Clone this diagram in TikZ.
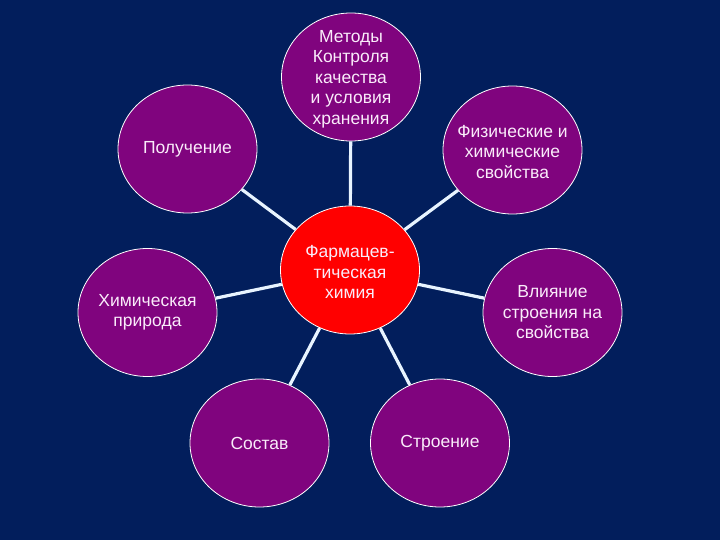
\documentclass[tikz,border=0pt]{standalone}
\usepackage{fontspec}
\setmainfont{Liberation Sans}
\usetikzlibrary{shapes.geometric,backgrounds}
\definecolor{bgblue}{RGB}{2,30,92}
\definecolor{purp}{RGB}{128,4,126}
\definecolor{redc}{RGB}{255,0,0}
\definecolor{linec}{RGB}{232,244,255}
\definecolor{txt}{RGB}{250,236,250}
\tikzset{
  bubble/.style={ellipse, draw=white, line width=0.8pt, fill=purp, minimum width=139pt, minimum height=128pt, inner sep=0pt},
  hub/.style={bubble, fill=redc},
  lbl/.style={inner sep=0pt, align=center, text=txt, font=\fontsize{17.5}{20.5}\selectfont},
  link/.style={draw=linec, line width=3.2pt}
}
\begin{document}
\begin{tikzpicture}[x=1pt,y=-1pt]
\useasboundingbox (0,0) rectangle (720,540);
\node[hub] (c) at (350,270) {};
\node[bubble] (top) at (351,77) {};
\node[bubble] (pol) at (187.5,149) {};
\node[bubble] (fiz) at (512.5,150) {};
\node[bubble] (him) at (147.5,312.5) {};
\node[bubble] (vli) at (552.5,312.5) {};
\node[bubble] (sos) at (259.5,443) {};
\node[bubble] (str) at (440,443) {};
\node[lbl] (ct) at ([yshift=-2pt]c.center) {Фармацев-\\тическая\\химия};
\node[lbl] (topt) at ([yshift=-2pt]top.center) {Методы\\Контроля\\качества\\и условия\\хранения};
\node[lbl] (polt) at (pol.center) {Получение};
\node[lbl] (fizt) at ([yshift=-2pt]fiz.center) {Физические и\\химические\\свойства};
\node[lbl] (himt) at (him.center) {Химическая\\природа};
\node[lbl] (vlit) at (vli.center) {Влияние\\строения на\\свойства};
\node[lbl] (sost) at (sos.center) {Состав};
\node[lbl] (strt) at (str.center) {Строение};
\begin{scope}[on background layer]
\fill[bgblue] (0,0) rectangle (720,540);
\draw[link] (c) -- (top);
\draw[link] (c) -- (pol);
\draw[link] (c) -- (fiz);
\draw[link] (c) -- (him);
\draw[link] (c) -- (vli);
\draw[link] (c) -- (sos);
\draw[link] (c) -- (str);
\end{scope}
\end{tikzpicture}
\end{document}
